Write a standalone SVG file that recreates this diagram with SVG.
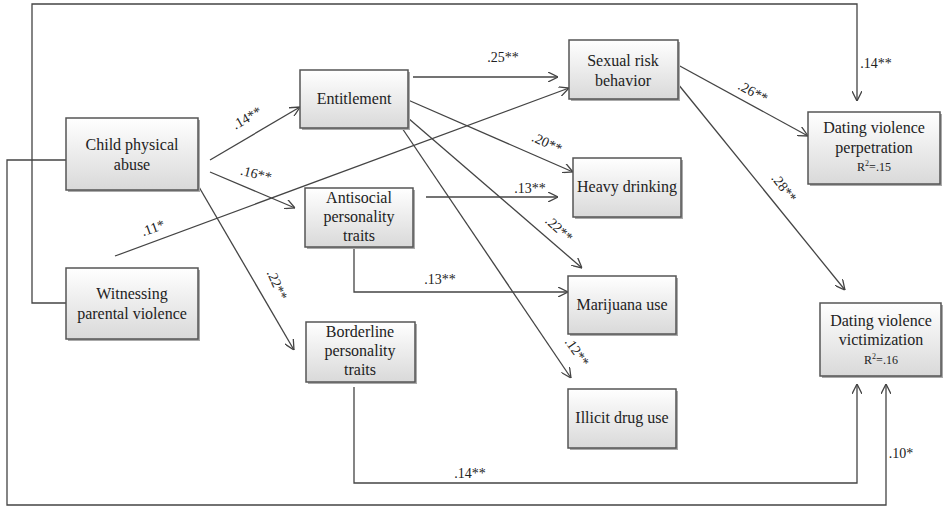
<svg xmlns="http://www.w3.org/2000/svg" width="943" height="507" viewBox="0 0 943 507">
<defs>
<linearGradient id="g" x1="0" y1="0" x2="0" y2="1">
<stop offset="0" stop-color="#ffffff"/>
<stop offset="1" stop-color="#d9d9d9"/>
</linearGradient>
<marker id="a" viewBox="0 0 10 10" refX="10" refY="5" markerWidth="10" markerHeight="10" markerUnits="userSpaceOnUse" orient="auto">
<path d="M0,0 L10,5 L0,10" fill="none" stroke="#444" stroke-width="1.3"/>
</marker>
</defs>
<style>
.box{fill:url(#g);stroke:#555;stroke-width:1.5}
.sh{fill:#aaa}
.t{font-family:"Liberation Serif","Times New Roman",serif;font-size:16px;fill:#222;text-anchor:middle}
.r{font-family:"Liberation Serif","Times New Roman",serif;font-size:12px;fill:#222;text-anchor:middle}
.l{font-family:"Liberation Serif","Times New Roman",serif;font-size:14px;fill:#222;text-anchor:middle;dominant-baseline:central}
.c{fill:none;stroke:#444;stroke-width:1.3}
.ar{marker-end:url(#a)}
</style>
<rect width="943" height="507" fill="#fff"/>
<g id="connectors">
<path class="c ar" d="M66,303 H32 V4 H857 V101"/>
<path class="c ar" d="M66,160 H7 V505 H886 V384"/>
<path class="c ar" d="M354,387 V483 H857 V384"/>
<path class="c ar" d="M210,160 L300,107"/>
<path class="c ar" d="M210,172 L295,208"/>
<path class="c ar" d="M199,187 L294,350"/>
<path class="c ar" d="M115,256 L569,88"/>
<path class="c ar" d="M413,77 L558,77"/>
<path class="c ar" d="M408,100 L573,172"/>
<path class="c ar" d="M408,118 L582,268"/>
<path class="c ar" d="M402,128 L571,378"/>
<path class="c ar" d="M426,197 L558,197"/>
<path class="c ar" d="M354,247 V292 H568"/>
<path class="c ar" d="M678,65 L808,136"/>
<path class="c ar" d="M678,84 L845,290"/>
<text class="l" x="247" y="118" transform="rotate(-30 247 118)">.14**</text>
<text class="l" x="256" y="174" transform="rotate(14 256 174)">.16**</text>
<text class="l" x="277" y="285" transform="rotate(66 277 285)">.22**</text>
<text class="l" x="153" y="228" transform="rotate(-20 153 228)">.11*</text>
<text class="l" x="503" y="57">.25**</text>
<text class="l" x="547" y="143" transform="rotate(25 547 143)">.20**</text>
<text class="l" x="530" y="188">.13**</text>
<text class="l" x="559" y="229" transform="rotate(42 559 229)">.22**</text>
<text class="l" x="440" y="279">.13**</text>
<text class="l" x="577" y="352" transform="rotate(55 577 352)">.12**</text>
<text class="l" x="753" y="92" transform="rotate(28 753 92)">.26**</text>
<text class="l" x="784" y="188" transform="rotate(52 784 188)">.28**</text>
<text class="l" x="876" y="63">.14**</text>
<text class="l" x="470" y="473">.14**</text>
<text class="l" x="901" y="453">.10*</text>
</g>
<g id="child">
<rect class="sh" x="68" y="120" width="132" height="72"/>
<rect class="box" x="66" y="118" width="132" height="72"/>
<text class="t" x="132" y="150">Child physical</text>
<text class="t" x="132" y="170">abuse</text>
</g>
<g id="witnessing">
<rect class="sh" x="68" y="270" width="132" height="71"/>
<rect class="box" x="66" y="268" width="132" height="71"/>
<text class="t" x="132" y="299">Witnessing</text>
<text class="t" x="132" y="319">parental violence</text>
</g>
<g id="entitlement">
<rect class="sh" x="302" y="72" width="108" height="58"/>
<rect class="box" x="300" y="70" width="108" height="58"/>
<text class="t" x="354" y="104">Entitlement</text>
</g>
<g id="antisocial">
<rect class="sh" x="307" y="190" width="108" height="59"/>
<rect class="box" x="305" y="188" width="108" height="59"/>
<text class="t" x="359" y="203">Antisocial</text>
<text class="t" x="359" y="222">personality</text>
<text class="t" x="359" y="241">traits</text>
</g>
<g id="borderline">
<rect class="sh" x="308" y="324" width="109" height="60"/>
<rect class="box" x="306" y="322" width="109" height="60"/>
<text class="t" x="360" y="337">Borderline</text>
<text class="t" x="360" y="356">personality</text>
<text class="t" x="360" y="375">traits</text>
</g>
<g id="sexual">
<rect class="sh" x="571" y="42" width="109" height="59"/>
<rect class="box" x="569" y="40" width="109" height="59"/>
<text class="t" x="623" y="66">Sexual risk</text>
<text class="t" x="623" y="86">behavior</text>
</g>
<g id="heavy">
<rect class="sh" x="575" y="160" width="108" height="59"/>
<rect class="box" x="573" y="158" width="108" height="59"/>
<text class="t" x="627" y="192">Heavy drinking</text>
</g>
<g id="marijuana">
<rect class="sh" x="570" y="278" width="108" height="58"/>
<rect class="box" x="568" y="276" width="108" height="58"/>
<text class="t" x="622" y="310">Marijuana use</text>
</g>
<g id="illicit">
<rect class="sh" x="570" y="391" width="108" height="59"/>
<rect class="box" x="568" y="389" width="108" height="59"/>
<text class="t" x="622" y="423">Illicit drug use</text>
</g>
<g id="perpetration">
<rect class="sh" x="810" y="114" width="132" height="72"/>
<rect class="box" x="808" y="112" width="132" height="72"/>
<text class="t" x="874" y="133">Dating violence</text>
<text class="t" x="874" y="153">perpetration</text>
<text class="r" x="874" y="171">R<tspan font-size="8" dy="-5">2</tspan><tspan dy="5">=.15</tspan></text>
</g>
<g id="victimization">
<rect class="sh" x="822" y="305" width="121" height="73"/>
<rect class="box" x="820" y="303" width="121" height="73"/>
<text class="t" x="881" y="326">Dating violence</text>
<text class="t" x="881" y="345">victimization</text>
<text class="r" x="881" y="364">R<tspan font-size="8" dy="-5">2</tspan><tspan dy="5">=.16</tspan></text>
</g>
</svg>
